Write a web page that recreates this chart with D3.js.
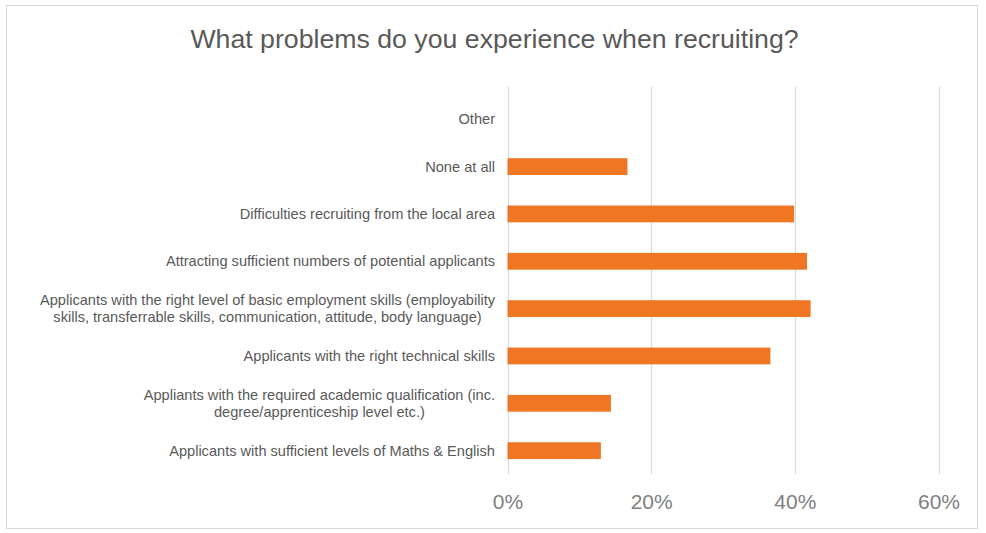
<!DOCTYPE html>
<html>
<head>
<meta charset="utf-8">
<script src="https://cdn.jsdelivr.net/npm/d3@7"></script>
<style>
  html, body { margin: 0; padding: 0; background: #fff; }
  svg { display: block; font-family: "Liberation Sans", Arial, sans-serif; }
</style>
</head>
<body>
<svg id="chart" width="986" height="533"></svg>
<script>
// Survey answers, top to bottom; "\n" marks a line break in the label
const categories = [
  "Other",
  "None at all",
  "Difficulties recruiting from the local area",
  "Attracting sufficient numbers of potential applicants",
  "Applicants with the right level of basic employment skills (employability\nskills, transferrable skills, communication, attitude, body language)",
  "Applicants with the right technical skills",
  "Appliants with the required academic qualification (inc.\ndegree/apprenticeship level etc.)",
  "Applicants with sufficient levels of Maths & English"
];
// Share of respondents (%)
const values = [0, 16.7, 39.9, 41.7, 42.2, 36.6, 14.4, 13.0];
const tickValues = [0, 20, 40, 60];
const titleText = "What problems do you experience when recruiting?";

const svg = d3.select("#chart");

// outer frame
svg.append("rect")
  .attr("x", 6.5).attr("y", 5.5)
  .attr("width", 971).attr("height", 523)
  .attr("fill", "#fff").attr("stroke", "#d9d9d9").attr("stroke-width", 1);

// title
svg.append("text")
  .attr("x", 494.5).attr("y", 48)
  .attr("text-anchor", "middle")
  .attr("font-size", 26.7)
  .attr("fill", "#595959")
  .text(titleText);

const x = d3.scaleLinear().domain([0, 60]).range([507.5, 938.5]);
const y = d3.scaleBand().domain(categories).range([95.6, 474.3])
  .paddingInner(0.645).paddingOuter(0.3225);

const gridTop = 87, gridBottom = 474;

// vertical gridlines
svg.append("g").selectAll("line")
  .data(tickValues)
  .join("line")
  .attr("x1", d => Math.round(x(d)) + 0.5)
  .attr("x2", d => Math.round(x(d)) + 0.5)
  .attr("y1", gridTop).attr("y2", gridBottom)
  .attr("stroke", "#d9d9d9").attr("stroke-width", 1.2);

// bars
svg.append("g").selectAll("rect")
  .data(categories.map((c, i) => ({ c, v: values[i] })))
  .join("rect")
  .attr("x", x(0))
  .attr("y", d => y(d.c))
  .attr("width", d => x(d.v) - x(0))
  .attr("height", y.bandwidth())
  .attr("fill", "#EF7724");

// category labels: lines centred on each other, block right-aligned
const labelRight = 495;
const lineH = 16.5;
const lg = svg.append("g").attr("font-size", 14.6).attr("fill", "#595959");
categories.forEach(c => {
  const lines = c.split("\n");
  const t = lg.append("text").attr("text-anchor", "middle");
  const cy = y(c) + y.bandwidth() / 2;
  lines.forEach((ln, i) => {
    t.append("tspan")
      .attr("y", cy + (i - (lines.length - 1) / 2) * lineH + 5)
      .text(ln);
  });
  let maxW = 0;
  t.selectAll("tspan").each(function () {
    maxW = Math.max(maxW, this.getComputedTextLength());
  });
  t.selectAll("tspan").attr("x", labelRight - maxW / 2);
});

// value axis tick labels
const xAxis = d3.axisBottom(x).tickValues(tickValues)
  .tickFormat(d => d + "%").tickSize(0).tickPadding(0);
const ax = svg.append("g").attr("transform", "translate(0,494)").call(xAxis);
ax.select(".domain").remove();
ax.selectAll("text")
  .attr("font-size", 21)
  .attr("font-family", "Liberation Sans, Arial, sans-serif")
  .attr("fill", "#7f7f7f");
</script>
</body>
</html>
